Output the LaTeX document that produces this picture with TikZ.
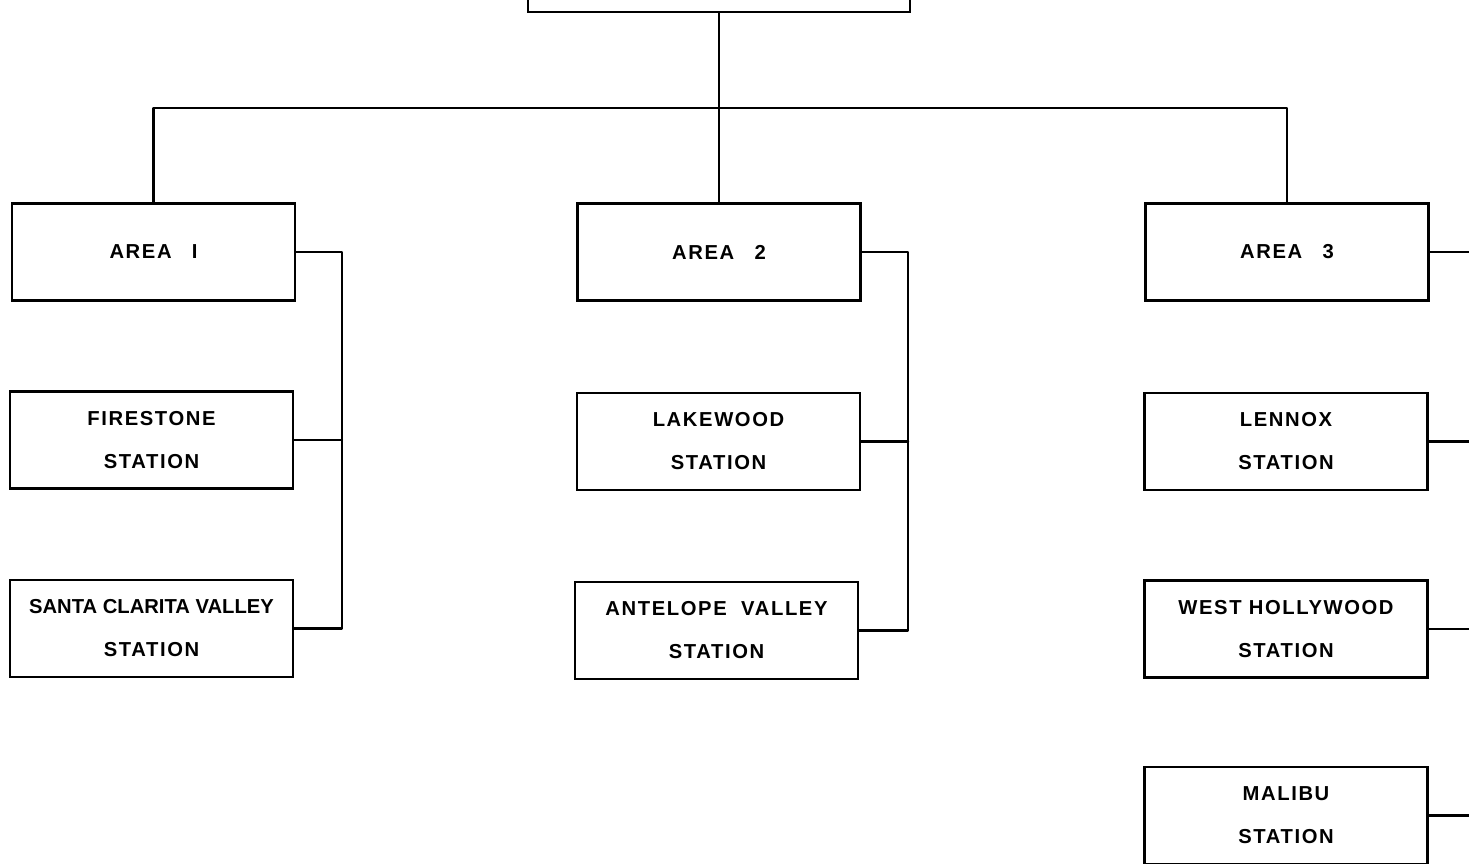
\documentclass[tikz,border=0pt]{standalone}
\usepackage{fontspec}
\newfontfamily\orgfont[LetterSpace=8]{Liberation Sans}
\usetikzlibrary{calc}

\tikzset{
  unit/.style={draw, line width=1.6pt, align=center,
    minimum width=56.6mm, minimum height=19.4mm, inner sep=0pt,
    font=\orgfont\bfseries\fontsize{11.5}{24.5}\selectfont},
  link/.style={line width=1.4pt, line cap=round, line join=round}
}

\begin{document}
\begin{tikzpicture}[x=0.2mm, y=-0.2mm]
    \useasboundingbox (0,0) rectangle (1469,864);

    % ==========================================
    % 1. Top box and the three areas
    % ==========================================
    \node[unit, minimum width=76.4mm, minimum height=18.4mm] (top) at (719,-34) {};

    \node[unit] (area1) at (153.5,252) {AREA\quad I};
    \node[unit] (area2) at (719,252) {AREA\quad 2};
    \node[unit] (area3) at (1287,252) {AREA\quad 3};

    % bus joining the areas
    \coordinate (bus) at (0,108);
    \draw[link] (top.south) -- (area2.north);
    \draw[link] (area1.north) -- (area1.north |- bus) -- (area3.north |- bus) -- (area3.north);

    % ==========================================
    % 2. Area 1 stations
    % ==========================================
    \node[unit] (fire) at (151.5,440) {FIRESTONE\\STATION};
    \node[unit] (santa) at (151.5,628.5) {{\fontspec[LetterSpace=0]{Liberation Sans}\bfseries SANTA CLARITA VALLEY}\\STATION};

    \coordinate (j1) at (342,0);
    \draw[link] (area1.east) -- (area1.east -| j1) |- (santa.east);
    \draw[link] (fire.east) -- (fire.east -| j1);

    % ==========================================
    % 3. Area 2 stations
    % ==========================================
    \node[unit] (lake) at (718.5,441.5) {LAKEWOOD\\STATION};
    \node[unit] (ante) at (716.5,630.5) {ANTELOPE\ \ VALLEY\\STATION};

    \coordinate (j2) at (908,0);
    \draw[link] (area2.east) -- (area2.east -| j2) |- (ante.east);
    \draw[link] (lake.east) -- (lake.east -| j2);

    % ==========================================
    % 4. Area 3 stations (lines run off the right edge)
    % ==========================================
    \node[unit] (lennox) at (1286,441.5) {LENNOX\\STATION};
    \node[unit] (westh) at (1286,629) {WEST HOLLYWOOD\\STATION};
    \node[unit] (malibu) at (1286,815.5) {MALIBU\\STATION};

    \coordinate (edge) at (1475,0);
    \foreach \n in {area3, lennox, westh, malibu}
        \draw[link] (\n.east) -- (\n.east -| edge);

\end{tikzpicture}
\end{document}
